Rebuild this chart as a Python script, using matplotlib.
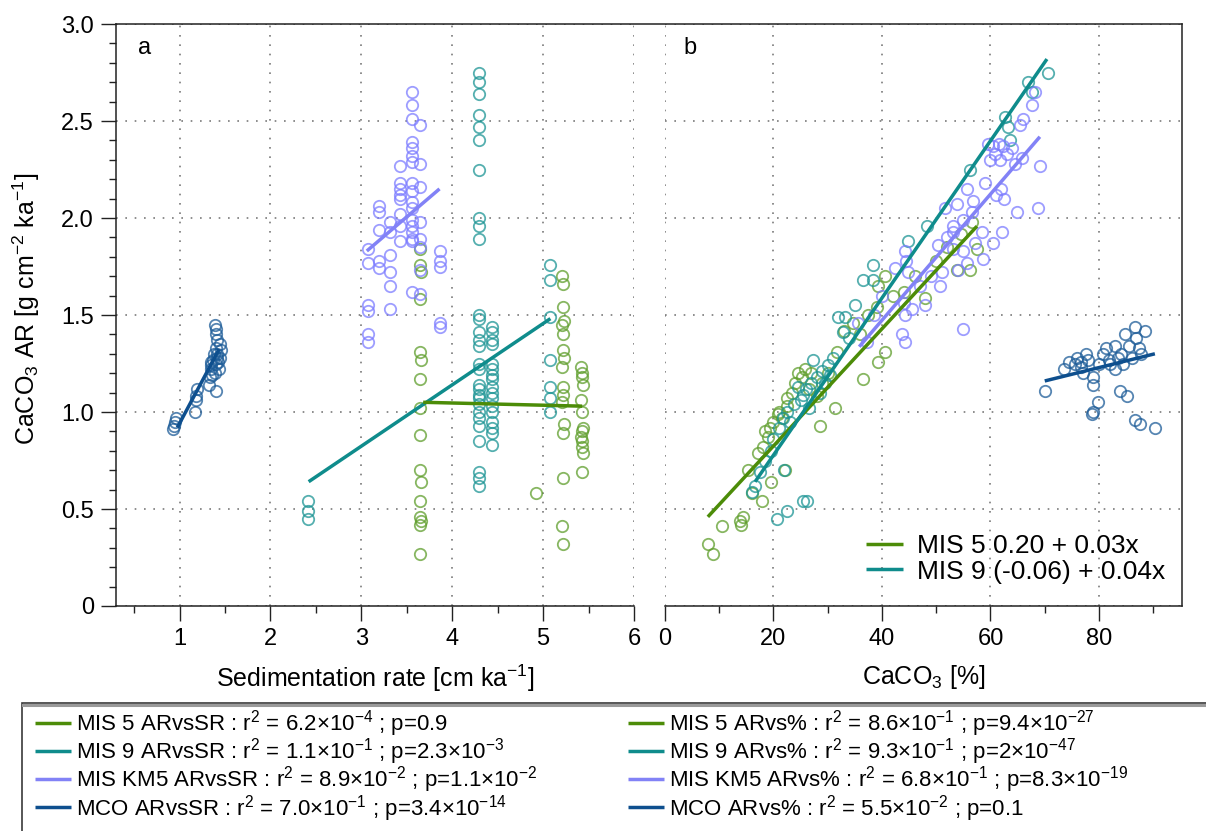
import numpy as np
import matplotlib
matplotlib.use('Agg')
import matplotlib.pyplot as plt
from matplotlib.lines import Line2D
from matplotlib.patches import Rectangle
from matplotlib.ticker import MultipleLocator
from matplotlib import font_manager as fm

# ---------------- data ----------------
# panel a : CaCO3 AR vs sedimentation rate  (x, y) pairs
mco_a = [(0.93, 0.91), (0.94, 0.93), (0.95, 0.95), (0.96, 0.97), (1.17, 1.00), (1.18, 1.06),
         (1.18, 1.08), (1.19, 1.12), (1.32, 1.14), (1.33, 1.18), (1.34, 1.22), (1.35, 1.26),
         (1.34, 1.24), (1.39, 1.45), (1.40, 1.43), (1.40, 1.40), (1.41, 1.37), (1.40, 1.33),
         (1.41, 1.30), (1.40, 1.25), (1.39, 1.20), (1.40, 1.11), (1.41, 1.28), (1.44, 1.35),
         (1.45, 1.32), (1.44, 1.28), (1.43, 1.22), (1.37, 1.27), (1.38, 1.30), (1.42, 1.26),
         (1.36, 1.19)]
km5_a = [(3.56, 2.65), (3.56, 2.58), (3.56, 2.51), (3.65, 2.48), (3.56, 2.39), (3.56, 2.36),
         (3.56, 2.32), (3.56, 2.29), (3.65, 2.28), (3.42, 2.27), (3.56, 2.18), (3.65, 2.16),
         (3.42, 2.18), (3.42, 2.15), (3.42, 2.12), (3.42, 2.10), (3.56, 2.14), (3.56, 2.08),
         (3.56, 2.05), (3.19, 2.06), (3.19, 2.03), (3.42, 2.02), (3.31, 1.98), (3.56, 1.99),
         (3.56, 1.96), (3.56, 1.93), (3.56, 1.89), (3.56, 1.88), (3.65, 1.98), (3.19, 1.94),
         (3.31, 1.93), (3.42, 1.96), (3.42, 1.88), (3.65, 1.89), (3.07, 1.84), (3.07, 1.77),
         (3.19, 1.78), (3.19, 1.74), (3.31, 1.81), (3.31, 1.72), (3.31, 1.65), (3.65, 1.85),
         (3.65, 1.73), (3.56, 1.62), (3.65, 1.61), (3.86, 1.83), (3.86, 1.78), (3.86, 1.75),
         (3.07, 1.55), (3.07, 1.52), (3.31, 1.53), (3.07, 1.40), (3.07, 1.36), (3.86, 1.46),
         (3.86, 1.44)]
mis5_a = [(3.65, 1.84), (3.65, 1.76), (3.66, 1.72), (3.65, 1.58), (3.64, 1.31), (3.66, 1.27),
          (3.65, 1.17), (3.65, 1.02), (3.64, 0.88), (3.65, 0.70), (3.66, 0.64), (3.65, 0.54),
          (3.64, 0.46), (3.66, 0.44), (3.65, 0.42), (3.65, 0.27),
          (5.21, 1.70), (5.22, 1.66), (5.22, 1.54), (5.23, 1.47), (5.21, 1.45), (5.22, 1.40),
          (5.22, 1.32), (5.23, 1.28), (5.21, 1.23), (5.22, 1.13), (5.22, 1.09), (5.21, 1.05),
          (5.23, 0.94), (5.22, 0.89), (5.22, 0.66), (5.21, 0.41), (5.22, 0.32),
          (5.42, 1.23), (5.43, 1.20), (5.43, 1.18), (5.44, 1.14), (5.42, 1.06), (5.43, 1.00),
          (5.44, 0.92), (5.43, 0.90), (5.42, 0.87), (5.43, 0.85), (5.43, 0.82), (5.44, 0.79),
          (5.43, 0.69), (4.92, 0.58)]
mis9_a = [(2.41, 0.54), (2.41, 0.49), (2.41, 0.45),
          (4.29, 2.75), (4.29, 2.70), (4.29, 2.64), (4.29, 2.53), (4.29, 2.47), (4.29, 2.40),
          (4.29, 2.25), (4.29, 2.00), (4.29, 1.96), (4.29, 1.89), (4.29, 1.50), (4.29, 1.48),
          (4.29, 1.41), (4.29, 1.37), (4.29, 1.34), (4.29, 1.25), (4.29, 1.22), (4.29, 1.14),
          (4.29, 1.12), (4.29, 1.09), (4.29, 1.07), (4.29, 1.04), (4.29, 1.00), (4.29, 0.97),
          (4.29, 0.93), (4.29, 0.85), (4.29, 0.69), (4.29, 0.66), (4.29, 0.62),
          (4.44, 1.44), (4.44, 1.41), (4.44, 1.37), (4.44, 1.35), (4.44, 1.25), (4.44, 1.22),
          (4.44, 1.19), (4.44, 1.17), (4.44, 1.13), (4.44, 1.10), (4.44, 1.07), (4.44, 1.03),
          (4.44, 1.00), (4.44, 0.95), (4.44, 0.92), (4.44, 0.89), (4.44, 0.83),
          (5.08, 1.76), (5.08, 1.68), (5.08, 1.49), (5.08, 1.27), (5.08, 1.13), (5.08, 1.07),
          (5.08, 1.00)]

# panel b : CaCO3 AR vs CaCO3 %
mis5_b = [(7.9, 0.32), (8.8, 0.27), (10.5, 0.41), (13.8, 0.44), (14.1, 0.42), (14.4, 0.46),
          (15.3, 0.70), (16.0, 0.58), (17.1, 0.79), (17.9, 0.54), (18.1, 0.82), (19.0, 0.87),
          (19.4, 0.92), (19.5, 0.64), (20.8, 0.99), (22.1, 0.70), (22.5, 1.07), (24.5, 1.20),
          (25.2, 1.18), (25.8, 1.22), (28.6, 0.93), (31.3, 1.02), (31.7, 1.31), (36.5, 1.17),
          (39.3, 1.26), (40.6, 1.31), (18.5, 0.90), (20.0, 0.95), (21.0, 1.00), (21.5, 0.97),
          (22.5, 1.03), (23.5, 1.10), (24.0, 1.15), (26.5, 1.12), (27.0, 1.20), (28.0, 1.08),
          (29.0, 1.15), (30.0, 1.20), (33.0, 1.42), (34.7, 1.46), (36.0, 1.40), (37.5, 1.50),
          (39.2, 1.65), (39.0, 1.54), (40.5, 1.70), (42.0, 1.60), (44.0, 1.62), (46.0, 1.70),
          (48.0, 1.59), (50.0, 1.78), (52.0, 1.85), (53.8, 1.73), (56.2, 1.73), (57.5, 1.84),
          (56.6, 1.98), (54.5, 1.92)]
mis9_b = [(16.0, 0.59), (16.6, 0.62), (17.5, 0.69), (20.6, 0.45), (22.5, 0.49), (25.4, 0.54),
          (26.2, 0.54), (18.5, 0.75), (19.5, 0.80), (20.0, 0.86), (21.0, 0.92), (21.8, 0.97),
          (22.5, 1.00), (23.0, 0.95), (23.8, 1.04), (24.5, 1.13), (25.0, 1.06), (25.5, 1.09),
          (26.0, 1.12), (26.5, 1.02), (27.0, 1.15), (27.3, 1.27), (28.0, 1.18), (28.5, 1.10),
          (29.0, 1.21), (29.5, 1.15), (30.0, 1.24), (30.5, 1.19), (31.0, 1.28), (31.9, 1.49),
          (32.8, 1.41), (33.2, 1.49), (34.0, 1.38), (36.5, 1.68), (38.4, 1.68), (38.4, 1.76),
          (44.8, 1.88), (48.3, 1.96), (56.2, 2.25), (62.7, 2.52), (63.2, 2.47), (63.6, 2.40),
          (66.9, 2.70), (67.6, 2.65), (70.6, 2.75), (22.0, 0.70), (35.0, 1.55)]
km5_b = [(68.2, 2.65), (67.6, 2.58), (66.0, 2.51), (65.4, 2.48), (59.5, 2.38), (60.5, 2.37),
         (61.5, 2.38), (62.3, 2.37), (64.0, 2.36), (60.0, 2.30), (61.8, 2.30), (60.8, 2.33),
         (63.0, 2.33), (64.5, 2.28), (65.8, 2.31), (69.1, 2.27), (59.0, 2.18), (55.7, 2.15),
         (56.8, 2.09), (61.0, 2.12), (62.0, 2.15), (62.5, 2.10), (64.9, 2.03), (68.8, 2.05),
         (51.6, 2.05), (53.8, 2.07), (53.0, 1.96), (55.0, 1.99), (56.6, 2.03), (58.4, 1.93),
         (62.1, 1.93), (57.1, 1.87), (60.5, 1.87), (58.6, 1.79), (50.3, 1.86), (52.0, 1.90),
         (53.0, 1.93), (53.0, 1.84), (55.0, 1.83), (54.0, 1.73), (55.7, 1.77), (44.3, 1.83),
         (44.5, 1.78), (44.8, 1.72), (42.4, 1.74), (51.0, 1.72), (44.0, 1.56), (44.3, 1.50),
         (45.5, 1.53), (48.0, 1.55), (50.7, 1.65), (43.7, 1.40), (44.2, 1.36), (55.0, 1.43),
         (35.6, 1.46), (37.2, 1.36), (47.0, 1.65), (49.0, 1.70), (40.0, 1.60), (38.5, 1.50)]
mco_b = [(70.0, 1.11), (73.5, 1.22), (75.5, 1.25), (76.7, 1.26), (76.7, 1.23), (77.0, 1.20),
         (77.6, 1.30), (78.0, 1.27), (78.9, 1.18), (78.9, 1.14), (79.8, 1.05), (78.9, 1.00),
         (78.7, 0.99), (80.0, 1.25), (80.7, 1.30), (81.3, 1.33), (81.8, 1.27), (82.9, 1.34),
         (83.5, 1.28), (83.9, 1.11), (84.0, 1.30), (84.8, 1.40), (85.1, 1.08), (85.5, 1.34),
         (86.6, 1.44), (86.8, 1.38), (87.4, 1.33), (87.8, 1.30), (88.5, 1.42), (86.6, 0.96),
         (87.6, 0.94), (90.3, 0.92), (82.0, 1.25), (83.0, 1.22), (84.5, 1.25), (86.0, 1.28),
         (74.5, 1.26), (76.0, 1.28)]

# regression lines: [intercept, slope, x_start, x_end]
fit_mis5_a = [1.092, -0.0114, 3.68, 5.43]
fit_mis9_a = [-0.124, 0.316, 2.42, 5.08]
fit_km5_a = [0.606, 0.40, 3.06, 3.86]
fit_mco_a = [0.064, 0.878, 0.975, 1.435]
fit_mis5_b = [0.221, 0.0302, 7.9, 57.5]
fit_mis9_b = [-0.032, 0.0405, 16.6, 70.4]
fit_km5_b = [0.173, 0.0325, 35.8, 69.1]
fit_mco_b = [0.677, 0.0069, 70.0, 90.3]

labels_a = ['MIS 5 ARvsSR : r$^2$ = 6.2\u00d710$^{-4}$ ; p=0.9',
            'MIS 9 ARvsSR : r$^2$ = 1.1\u00d710$^{-1}$ ; p=2.3\u00d710$^{-3}$',
            'MIS KM5 ARvsSR : r$^2$ = 8.9\u00d710$^{-2}$ ; p=1.1\u00d710$^{-2}$',
            'MCO ARvsSR : r$^2$ = 7.0\u00d710$^{-1}$ ; p=3.4\u00d710$^{-14}$']
labels_b = ['MIS 5 ARvs% : r$^2$ = 8.6\u00d710$^{-1}$ ; p=9.4\u00d710$^{-27}$',
            'MIS 9 ARvs% : r$^2$ = 9.3\u00d710$^{-1}$ ; p=2\u00d710$^{-47}$',
            'MIS KM5 ARvs% : r$^2$ = 6.8\u00d710$^{-1}$ ; p=8.3\u00d710$^{-19}$',
            'MCO ARvs% : r$^2$ = 5.5\u00d710$^{-2}$ ; p=0.1']
eq_labels = ['MIS 5 0.20 + 0.03x', 'MIS 9 (-0.06) + 0.04x']

# ---------------- style ----------------
plt.rcParams['font.family'] = ['Liberation Sans', 'DejaVu Sans']
plt.rcParams['mathtext.default'] = 'regular'
try:
    fm.findfont(fm.FontProperties(family='Liberation Sans Narrow'), fallback_to_default=False)
    leg_family, leg_size = ['Liberation Sans Narrow', 'Liberation Sans'], 18
except Exception:
    leg_family, leg_size = ['Liberation Sans', 'DejaVu Sans'], 16

C_MIS5, C_MIS9, C_KM5, C_MCO = '#4c8c08', '#0f8c8c', '#8282f6', '#0e4f8e'
M_MIS5, M_MIS9, M_KM5, M_MCO = '#5f9e2c', '#1c9494', '#7c7cff', '#1d5c98'

W, H = 1206, 831
def fx(px):
    return px / W
def fy(py):
    return 1 - py / H

fig = plt.figure(figsize=(W / 100, H / 100), dpi=100)
axa = fig.add_axes([fx(116), fy(606), (634 - 116) / W, (606 - 24) / H])
axb = fig.add_axes([fx(665), fy(606), (1182 - 665) / W, (606 - 24) / H])


def scatter(ax, pts, color, z):
    x, y = zip(*pts)
    ax.plot(x, y, 'o', mfc='none', mec=color, ms=8.2, mew=1.3, alpha=0.75, zorder=z)


def fitline(ax, fit, color, z, label=None):
    a, b, x0, x1 = fit
    xs = np.array([x0, x1])
    ln, = ax.plot(xs, a + b * xs, color=color, lw=2.5, solid_capstyle='butt', zorder=z, label=label)
    return ln


# panel a
scatter(axa, mco_a, M_MCO, 3)
scatter(axa, mis9_a, M_MIS9, 3)
scatter(axa, mis5_a, M_MIS5, 3)
scatter(axa, km5_a, M_KM5, 3)
la = [fitline(axa, fit_mis5_a, C_MIS5, 6),
      fitline(axa, fit_mis9_a, C_MIS9, 5),
      fitline(axa, fit_km5_a, C_KM5, 5),
      fitline(axa, fit_mco_a, C_MCO, 5)]

# panel b
scatter(axb, mis5_b, M_MIS5, 3)
scatter(axb, mis9_b, M_MIS9, 3)
scatter(axb, km5_b, M_KM5, 3)
scatter(axb, mco_b, M_MCO, 3)
lb = [fitline(axb, fit_mis5_b, C_MIS5, 5),
      fitline(axb, fit_mis9_b, C_MIS9, 5),
      fitline(axb, fit_km5_b, C_KM5, 6),
      fitline(axb, fit_mco_b, C_MCO, 5)]

for ax in (axa, axb):
    ax.set_ylim(0, 3.0)
    ax.yaxis.set_major_locator(MultipleLocator(0.5))
    ax.yaxis.set_minor_locator(MultipleLocator(0.1))
    ax.grid(True, which='major', color='#7a7a7a', linestyle=(0, (1, 4.6)), lw=1.2)
    ax.set_axisbelow(True)
    ax.spines['top'].set_visible(False)
    ax.tick_params(which='major', direction='out', length=11, width=1.0, labelsize=17,
                   color='#222222', pad=5)
    ax.tick_params(which='minor', direction='out', length=5, width=1.0, color='#222222')
    for s in ax.spines.values():
        s.set_linewidth(1.1)
        s.set_color('#222222')

axa.set_xlim(0.3, 6.0)
axa.xaxis.set_major_locator(MultipleLocator(1))
axa.xaxis.set_minor_locator(MultipleLocator(0.5))
axa.set_yticks([0, 0.5, 1.0, 1.5, 2.0, 2.5, 3.0])
axa.set_yticklabels(['0', '0.5', '1.0', '1.5', '2.0', '2.5', '3.0'])
axa.spines['right'].set_visible(False)

axb.set_xlim(0, 95.3)
axb.xaxis.set_major_locator(MultipleLocator(20))
axb.xaxis.set_minor_locator(MultipleLocator(10))
axb.spines['left'].set_visible(False)
axb.tick_params(axis='y', which='both', left=False, right=False, labelleft=False)

axa.set_xlabel('Sedimentation rate [cm ka$^{-1}$]', fontsize=18)
axb.set_xlabel('CaCO$_3$ [%]', fontsize=18)
axa.xaxis.set_label_coords(0.5, -0.098)
axb.xaxis.set_label_coords(0.5, -0.098)
axa.set_ylabel('CaCO$_3$ AR [g cm$^{-2}$ ka$^{-1}$]', fontsize=18)
axa.yaxis.set_label_coords(-0.143, 0.51)

axa.text(0.056, 0.959, 'a', transform=axa.transAxes, fontsize=17, ha='center', va='center')
axb.text(0.048, 0.959, 'b', transform=axb.transAxes, fontsize=17, ha='center', va='center')

# continuous top frame line
fig.add_artist(Line2D([fx(116), fx(1182)], [fy(24), fy(24)], transform=fig.transFigure,
                      color='#222222', lw=1.1))

# inline equation legend
axb.legend([lb[0], lb[1]], eq_labels, loc='upper left', bbox_to_anchor=(fx(866), fy(534)),
           bbox_transform=fig.transFigure, frameon=False, borderpad=0, borderaxespad=0,
           handlelength=1.4, handletextpad=0.55, labelspacing=0.06, fontsize=19)

# bottom legend box
fig.add_artist(Rectangle((fx(22), fy(850)), (1230 - 22) / W, (850 - 703) / H,
                         transform=fig.transFigure, fill=False, ec='#3a3a3a', lw=1.2))
fig.add_artist(Line2D([fx(23), 1.0], [fy(705), fy(705)], transform=fig.transFigure,
                      color='#9a9a9a', lw=2.2))

common = dict(loc='upper left', frameon=False, borderpad=0, borderaxespad=0,
              handlelength=1.6, handletextpad=0.25, labelspacing=-0.12,
              prop=fm.FontProperties(family=leg_family, size=leg_size))
fig.legend(la, labels_a, bbox_to_anchor=(fx(35), fy(708)), **common)
fig.legend(lb, labels_b, bbox_to_anchor=(fx(628), fy(708)), **common)

fig.savefig('out.png', dpi=100)
